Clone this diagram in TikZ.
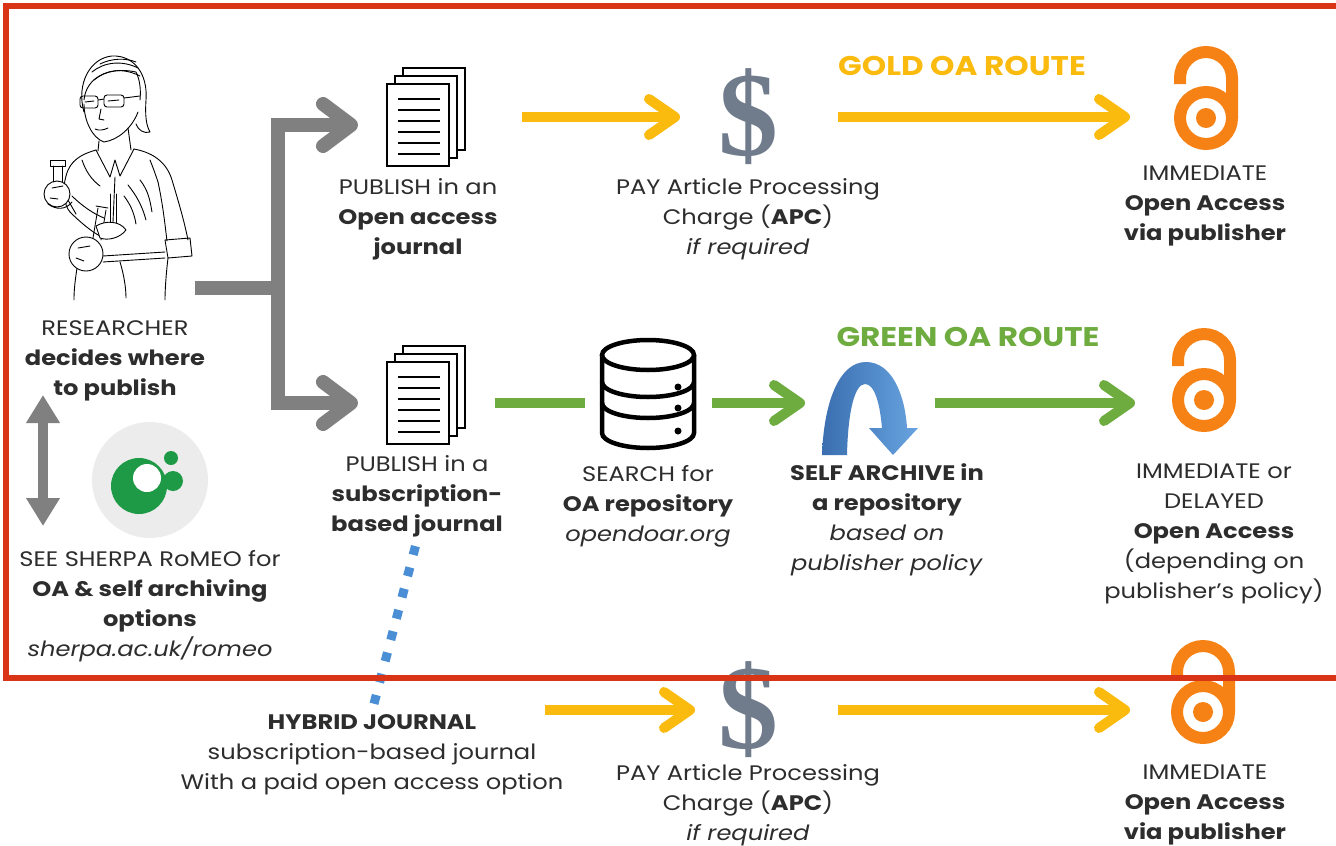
\documentclass[tikz,border=0pt]{standalone}
\usepackage{fontspec}
\setmainfont{Poppins}[FakeStretch=1.15]
\newfontfamily\dollarfont{Liberation Serif}
\usetikzlibrary{arrows.meta,positioning}

\definecolor{oagold}{RGB}{250,186,14}
\definecolor{oagreen}{RGB}{110,172,64}
\definecolor{arrowgray}{RGB}{128,128,128}
\definecolor{lockorange}{RGB}{246,130,22}
\definecolor{framered}{RGB}{218,52,22}
\definecolor{linkblue}{RGB}{74,143,214}
\definecolor{romeogreen}{RGB}{30,154,70}
\definecolor{romeogray}{RGB}{236,236,236}
\definecolor{dollargray}{RGB}{112,124,140}
\definecolor{textgray}{RGB}{45,45,45}
\definecolor{archdark}{RGB}{58,110,176}
\definecolor{archlight}{RGB}{104,164,224}

\tikzset{
  iconbox/.style={inner sep=0pt, outer sep=0pt},
  caption/.style={align=center, text=textgray, yshift=-3pt, font=\fontsize{21}{30}\selectfont},
  route/.style={font=\fontsize{27}{30}\selectfont\bfseries},
  branch/.style={draw=arrowgray, line width=14pt},
  branchhead/.style={branch, -{Straight Barb[length=28pt,width=42pt,round]}},
  goldarrow/.style={draw=oagold, line width=10pt, -{Straight Barb[length=26pt,width=36pt,round]}},
  greenline/.style={draw=oagreen, line width=10pt},
  greenarrow/.style={greenline, -{Straight Barb[length=26pt,width=36pt,round]}},
  twoway/.style={draw=arrowgray, line width=10pt,
    {Triangle[length=28pt,width=32pt]}-{Triangle[length=28pt,width=32pt]}},
  hybridlink/.style={draw=linkblue, line width=9pt, dash pattern=on 9pt off 13pt},
  dollar/.style={inner sep=0pt, text=dollargray, font=\dollarfont\bfseries\fontsize{120}{120}\selectfont},
  page/.style={draw=black, line width=2pt, fill=white},
  lock/.style={draw=lockorange, line width=12pt},
  sketch/.style={line width=0.9pt, line cap=round, line join=round},
}

% stack of three pages, front page a little left of the centre
\newcommand{\paperstack}[1]{%
  \begin{scope}[shift={(#1)}]
    \foreach \d in {16,8,0}
      \draw[page] (-39+\d,-41-\d) rectangle (23+\d,41-\d);
    \foreach \y in {-26,-15,...,30}
      \draw[line width=2pt] (-28,\y) -- (14,\y);
  \end{scope}}

% open access padlock, ring centred at the given point
\newcommand{\oalock}[1]{%
  \begin{scope}[shift={(#1)}]
    \draw[lock] (0,0) circle (26pt);
    \fill[lockorange] (0,0) circle (10pt);
    \draw[lock] (-26,-34) -- (-26,-40) arc (180:0:26pt) -- (26,0);
  \end{scope}}

% repository drum
\newcommand{\repodrum}[1]{%
  \begin{scope}[shift={(#1)}, line width=4.5pt]
    \draw (0,-40) ellipse (46pt and 15pt);
    \draw (-46,-40) -- (-46,38) arc (180:360:46pt and 15pt) -- (46,-40);
    \draw (-46,-13) arc (180:360:46pt and 15pt);
    \draw (-46,8) arc (180:360:46pt and 15pt);
    \foreach \y in {-8,13,36}
      \fill (30,\y) circle (3.5pt);
  \end{scope}}

\begin{document}
\begin{tikzpicture}[x=1pt,y=-1pt]
\useasboundingbox (0,0) rectangle (1336,846);
\fill[white] (0,0) rectangle (1336,846);

% ---- icon anchors
\node[iconbox, minimum width=150, minimum height=245] (researcher) at (120,178) {};
\node[iconbox, minimum width=78, minimum height=98] (pubOA) at (426,125) {};
\node[iconbox, minimum width=78, minimum height=98] (pubSub) at (426,403) {};
\node[dollar] (apc) at (748,117) {\$};
\node[iconbox, minimum width=70, minimum height=100] (goldLock) at (1206,100) {};
\node[iconbox, minimum width=96, minimum height=112] (repo) at (648,395) {};
\node[iconbox, minimum width=96, minimum height=94] (selfArch) at (866,408) {};
\node[iconbox, minimum width=70, minimum height=100] (greenLock) at (1204,382) {};
\node[dollar] (apcHyb) at (748,710) {\$};
\node[iconbox, minimum width=70, minimum height=100] (hybLock) at (1203,694) {};
\node[circle, fill=romeogray, minimum size=116] (romeo) at (150,480) {};
\coordinate (junction) at (278,288);

% ---- researcher
\begin{scope}[sketch]
  % hair and face
  \draw (84,112) .. controls (76,84) and (90,58) .. (112,56) .. controls (134,55) and (148,74) .. (146,100)
        .. controls (145,115) and (146,125) .. (150,132) .. controls (144,134) and (138,130) .. (136,124);
  \draw (84,100) .. controls (86,78) and (108,66) .. (136,72) .. controls (140,80) and (141,90) .. (140,100);
  \draw (92,72) .. controls (104,62) and (122,60) .. (138,68);
  \draw (94,80) .. controls (106,70) and (122,67) .. (140,76);
  \draw (100,64) .. controls (112,58) and (126,58) .. (136,62);
  \draw (84,104) .. controls (84,120) and (92,138) .. (104,142) .. controls (118,140) and (132,128) .. (138,112);
  % glasses and features
  \draw[rounded corners=3pt] (80,96) rectangle (98,108);
  \draw[rounded corners=3pt] (104,95) rectangle (124,107);
  \draw (98,100) -- (104,99)  (124,98) -- (140,96);
  \draw (85,102) -- (94,101)  (108,101) -- (119,100);
  \draw (101,109) -- (99,119) -- (104,120);
  \draw (95,129) .. controls (99,131) and (104,130) .. (108,128);
  % neck and collar
  \draw (99,141) -- (98,151)  (128,128) -- (131,150);
  \draw (96,150) -- (110,177) -- (115,160) -- (120,176) -- (134,149);
  \draw (115,177) -- (113,222);
  \draw (128,185) .. controls (136,195) and (142,205) .. (146,220);
  \draw (140,180) .. controls (148,190) and (150,200) .. (152,212);
  \draw (124,196) .. controls (130,204) and (134,212) .. (136,224);
  \draw (150,160) .. controls (154,170) and (156,176) .. (158,182);
  \draw (82,160) .. controls (86,172) and (92,180) .. (100,186);
  % shoulders, sleeve and body
  \draw (96,150) .. controls (82,154) and (70,160) .. (66,176);
  \draw (134,149) .. controls (150,152) and (166,160) .. (172,180) .. controls (178,200) and (184,220) .. (188,240);
  \draw (158,182) .. controls (163,205) and (165,225) .. (167,241);
  \draw (165,240) -- (190,238) -- (192,256) -- (168,258) -- cycle;
  \draw (168,258) .. controls (166,275) and (165,290) .. (165,300);
  \draw (78,262) .. controls (75,280) and (74,290) .. (74,300);
  \draw (103,256) -- (165,252)  (103,262) -- (165,258);
  \draw (120,262) .. controls (124,275) and (126,288) .. (126,298);
  % raised arm with small flask
  \draw (66,176) .. controls (62,190) and (64,205) .. (70,212);
  \draw (70,212) .. controls (80,222) and (92,232) .. (100,236);
  \draw (72,196) .. controls (82,206) and (94,214) .. (104,218);
  \draw (68,200) -- (76,214);
  \draw[fill=white] (57,194) circle (13pt);
  \draw (53,182) -- (53,166)  (62,182) -- (62,166);
  \draw (50,160) rectangle (65,166);
  \draw (52,188) -- (63,186)  (50,198) -- (58,199);
  \draw (48,204) .. controls (56,210) and (66,210) .. (72,202);
  % round flask, tube and hand
  \draw[fill=white] (86,254) circle (17pt);
  \draw (78,248) -- (90,246)  (76,258) -- (84,261);
  \draw (93,238) -- (98,208)  (101,240) -- (106,210);
  \draw (96,206) -- (108,208);
  \draw (110,194) -- (110,230)  (116,194) -- (116,230);
  \draw[fill=white] (96,226) .. controls (106,220) and (120,221) .. (126,230)
        .. controls (120,238) and (108,241) .. (100,238) -- cycle;
\end{scope}

% ---- icons
\paperstack{pubOA}
\paperstack{pubSub}
\oalock{1206,118}
\oalock{1204,400}
\oalock{1203,712}
\repodrum{repo}
\shade[left color=archdark, right color=archlight]
  (822,455) .. controls (824,400) and (840,362) .. (866,362) .. controls (892,362) and (905,395) .. (907,428)
  -- (918,428) -- (893,455) -- (869,428) -- (882,428)
  .. controls (880,405) and (875,384) .. (865,384) .. controls (855,384) and (848,410) .. (847,455) -- cycle;
\fill[romeogreen] (139,486) circle (28pt);
\fill[white] (147,478) circle (14pt);
\fill[romeogreen] (173,481) circle (10pt);
\fill[romeogreen] (171,458) circle (7pt);

% ---- connectors
\draw[branch] (researcher.east |- junction) -- (junction);
\draw[branchhead, shorten >=68pt] (junction) |- (pubOA.center);
\draw[branchhead, shorten >=68pt] (junction) |- (pubSub.center);
\coordinate (askTop) at (43,395);
\coordinate (askBottom) at (43,526);
\draw[twoway] (askTop) -- (askBottom);
\draw[goldarrow, shorten <=96pt, shorten >=68pt] (pubOA |- apc) -- (apc.center);
\draw[goldarrow, shorten <=90pt, shorten >=76pt] (apc.center) -- (apc -| goldLock);
\draw[greenline, shorten <=69pt, shorten >=63pt] (pubSub.center) -- (pubSub -| repo);
\draw[greenarrow, shorten <=64pt, shorten >=61pt] (pubSub -| repo) -- (pubSub -| selfArch);
\draw[greenarrow, shorten <=69pt, shorten >=69pt] (pubSub -| selfArch) -- (pubSub -| greenLock);

% ---- captions
\node[caption] (decideTxt) at (115,358) {RESEARCHER\\\textbf{decides where}\\\textbf{to publish}};
\node[caption] (sherpaTxt) at (150,603) {SEE SHERPA RoMEO for\\\textbf{OA \& self archiving}\\\textbf{options}\\\textit{sherpa.ac.uk/romeo}};
\node[caption] (pubOATxt) at (418,216) {PUBLISH in an\\\textbf{Open access}\\\textbf{journal}};
\node[caption] (apcTxt) at (748,216) {PAY Article Processing\\Charge (\textbf{APC})\\\textit{if required}};
\node[route, text=oagold] (goldTxt) at (962,66) {GOLD OA ROUTE};
\node[caption] (goldLockTxt) at (1205,203) {IMMEDIATE\\\textbf{Open Access}\\\textbf{via publisher}};
\node[caption] (pubSubTxt) at (417,493) {PUBLISH in a\\\textbf{subscription-}\\\textbf{based journal}};
\node[caption] (repoTxt) at (648,503) {SEARCH for\\\textbf{OA repository}\\\textit{opendoar.org}};
\node[route, text=oagreen] (greenTxt) at (968,337) {GREEN OA ROUTE};
\node[caption] (selfTxt) at (887,517) {\textbf{SELF ARCHIVE in}\\\textbf{a repository}\\\textit{based on}\\\textit{publisher policy}};
\node[caption] (greenLockTxt) at (1214,531) {IMMEDIATE or\\DELAYED\\\textbf{Open Access}\\(depending on\\publisher’s policy)};
\node[caption] (hybrid) at (372,752) {\textbf{HYBRID JOURNAL}\\subscription-based journal\\With a paid open access option};
\node[caption] (apcHybTxt) at (748,802) {PAY Article Processing\\Charge (\textbf{APC})\\\textit{if required}};
\node[caption] (hybLockTxt) at (1205,802) {IMMEDIATE\\\textbf{Open Access}\\\textbf{via publisher}};

% hybrid route
\draw[hybridlink, shorten <=6pt, shorten >=4pt] (pubSubTxt.south) -- (hybrid.north);
\draw[goldarrow, shorten <=173pt, shorten >=53pt] (hybrid |- apcHyb) -- (apcHyb.center);
\draw[goldarrow, shorten <=90pt, shorten >=73pt] (apcHyb.center) -- (apcHyb -| hybLock);

% red frame on top
\draw[framered, line width=6.5pt] (6,6) rectangle (1345,678);
\end{tikzpicture}
\end{document}
